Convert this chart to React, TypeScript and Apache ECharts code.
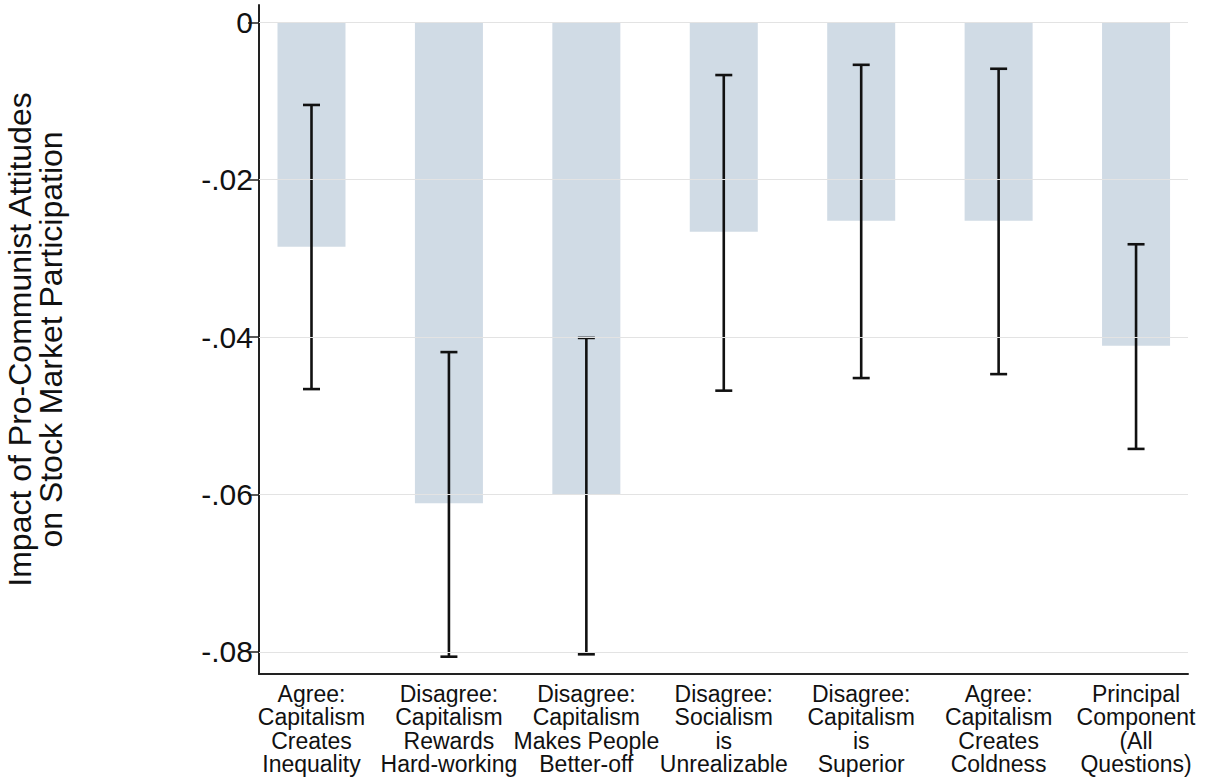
import React, { useEffect, useRef } from "react";
import * as echarts from "echarts";

const categories = [
  "Agree:\nCapitalism\nCreates\nInequality",
  "Disagree:\nCapitalism\nRewards\nHard-working",
  "Disagree:\nCapitalism\nMakes People\nBetter-off",
  "Disagree:\nSocialism\nis\nUnrealizable",
  "Disagree:\nCapitalism\nis\nSuperior",
  "Agree:\nCapitalism\nCreates\nColdness",
  "Principal\nComponent\n(All\nQuestions)",
];
const estimates = [-0.0285, -0.0611, -0.0600, -0.0266, -0.0252, -0.0252, -0.0411];
const ciUpper = [-0.0105, -0.0419, -0.0401, -0.0067, -0.0054, -0.0059, -0.0282];
const ciLower = [-0.0466, -0.0806, -0.0803, -0.0468, -0.0452, -0.0447, -0.0542];
const yTicks = [0, -0.02, -0.04, -0.06, -0.08];
const yTitle = "Impact of Pro-Communist Attitudes\non Stock Market Participation";

const FONT = "'Liberation Sans', Arial, Helvetica, sans-serif";

export default function App() {
  const ref = useRef<HTMLDivElement>(null);
  useEffect(() => {
    document.body.style.margin = "0";
    const chart = echarts.init(ref.current!, null, { renderer: "svg" });
    const positions = categories.map((_, i) => i + 1);
    chart.setOption({
      animation: false,
      backgroundColor: "#ffffff",
      grid: {
        left: 259,
        right: 22,
        top: 5,
        bottom: 109,
        containLabel: false,
        outerBoundsMode: "none",
      },
      xAxis: {
        type: "value",
        min: 0.618,
        max: 7.378,
        axisLine: { show: true, onZero: false, lineStyle: { color: "#222", width: 2 } },
        axisTick: { show: false },
        splitLine: { show: false },
        axisLabel: {
          customValues: positions,
          formatter: (v: number) => categories[Math.round(v) - 1] ?? "",
          fontFamily: FONT,
          fontSize: 23,
          lineHeight: 23.5,
          color: "#111",
          margin: 8,
          align: "center",
        },
      },
      yAxis: {
        type: "value",
        min: -0.0828,
        max: 0.0022,
        axisLine: { show: true, onZero: false, lineStyle: { color: "#222", width: 2 } },
        axisTick: {
          show: true,
          customValues: yTicks,
          length: 11,
          lineStyle: { color: "#222", width: 1.5 },
        },
        splitLine: { show: false },
        axisLabel: {
          customValues: yTicks,
          formatter: (v: number) => (Math.abs(v) < 1e-9 ? "0" : v.toFixed(2).replace("0.", ".")),
          fontFamily: FONT,
          fontSize: 30,
          color: "#111",
          margin: 6,
        },
        name: yTitle,
        nameLocation: "middle",
        nameRotate: 90,
        nameGap: 193,
        nameTextStyle: {
          fontFamily: FONT,
          fontSize: 32,
          lineHeight: 31,
          color: "#111",
          align: "center",
        },
      },
      series: [
        {
          type: "line",
          data: [],
          z: 1,
          silent: true,
          markLine: {
            silent: true,
            symbol: ["none", "none"],
            label: { show: false },
            lineStyle: { color: "#e3e3e3", type: "solid", width: 1 },
            data: yTicks.map((t) => ({ yAxis: t })),
          },
        },
        {
          type: "bar",
          z: 2,
          barWidth: 68,
          itemStyle: { color: "#d0dbe5" },
          data: estimates.map((v, i) => [positions[i], v]),
        },
        {
          type: "custom",
          z: 3,
          encode: { x: 0, y: [1, 2] },
          data: ciLower.map((lo, i) => [positions[i], lo, ciUpper[i]]),
          renderItem: (params: any, api: any) => {
            const x = api.value(0);
            const lo = api.value(1);
            const hi = api.value(2);
            const pTop = api.coord([x, hi]);
            const pBot = api.coord([x, lo]);
            const half = 8.5;
            const style = { stroke: "#111", lineWidth: 2.6 };
            return {
              type: "group",
              children: [
                { type: "line", shape: { x1: pTop[0], y1: pTop[1], x2: pBot[0], y2: pBot[1] }, style },
                { type: "line", shape: { x1: pTop[0] - half, y1: pTop[1], x2: pTop[0] + half, y2: pTop[1] }, style },
                { type: "line", shape: { x1: pBot[0] - half, y1: pBot[1], x2: pBot[0] + half, y2: pBot[1] }, style },
              ],
            };
          },
        },
      ],
    });
    return () => chart.dispose();
  }, []);
  return <div ref={ref} style={{ width: 1210, height: 783 }} />;
}
